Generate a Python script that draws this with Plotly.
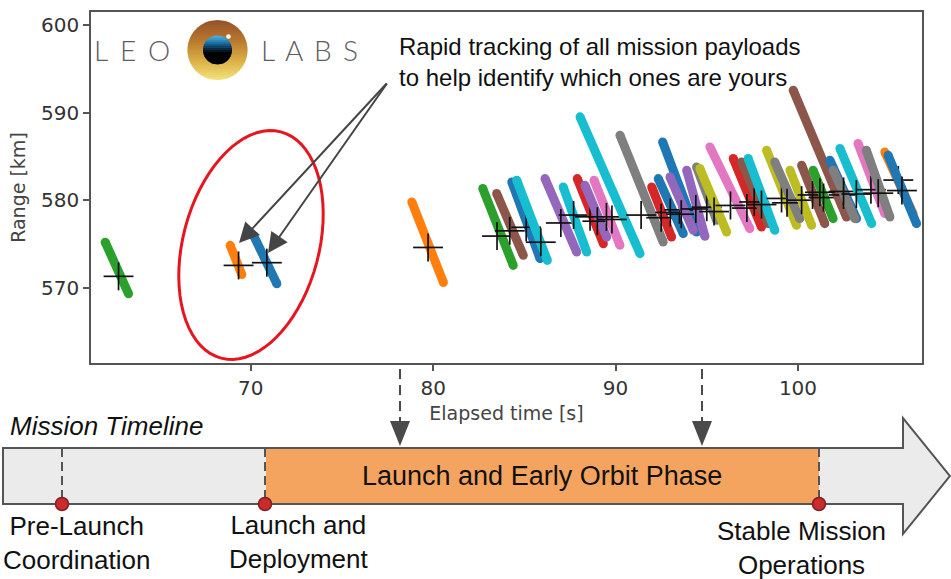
import math
import plotly.graph_objects as go

W, H = 951, 579

# ---------------- data ----------------
# each satellite track: start/end elapsed time [s] and start/end range [km]
track_t0 = [62.02, 68.87, 70.15, 78.83,
            82.72, 83.48, 84.31, 84.58, 86.13, 87.13, 87.90, 88.32, 88.82, 88.05,
            90.24, 91.98, 92.34, 92.58, 92.98, 93.90, 94.44, 94.62, 95.17, 96.45,
            96.91, 97.27, 98.28, 98.73, 99.56, 100.20, 100.83, 99.74, 101.75, 101.93,
            102.30, 103.29, 103.75, 104.76, 104.94]
track_t1 = [63.30, 69.51, 71.43, 80.56,
            84.39, 84.94, 85.86, 86.26, 87.87, 88.42, 89.33, 89.51, 90.24, 91.34,
            92.61, 93.07, 93.71, 94.44, 94.26, 94.90, 95.54, 96.09, 97.36, 98.00,
            98.37, 98.73, 99.92, 100.10, 100.75, 101.47, 101.93, 102.66, 103.21, 103.12,
            104.04, 104.76, 105.04, 106.31, 106.50]
track_r0 = [575.2, 574.84, 575.98, 579.8,
            581.33, 580.76, 582.08, 582.28, 582.47, 581.51, 582.47, 581.70, 582.28, 589.52,
            587.43, 581.51, 582.47, 586.66, 582.65, 583.42, 583.80, 583.62, 586.09, 584.76,
            584.37, 584.76, 585.71, 584.37, 583.42, 583.99, 583.42, 592.57, 584.57, 583.42,
            585.90, 586.48, 585.71, 585.51, 585.14]
track_r1 = [569.3, 571.5, 570.46, 570.6,
            572.55, 573.70, 573.32, 573.12, 574.07, 574.07, 575.03, 575.79, 574.84, 573.89,
            575.22, 575.79, 576.18, 576.36, 576.56, 575.87, 577.70, 576.36, 576.75, 576.93,
            577.32, 576.56, 577.13, 577.89, 577.13, 577.32, 577.89, 578.08, 577.89, 577.89,
            577.32, 578.47, 578.08, 578.47, 577.32]
track_color = ["green", "orange", "blue", "orange",
               "green", "brown", "blue", "cyan", "purple", "cyan", "red", "purple", "pink", "cyan",
               "gray", "red", "blue", "blue", "purple", "purple", "gray", "olive", "pink", "red",
               "brown", "cyan", "olive", "gray", "olive", "brown", "green", "brown", "blue", "gray",
               "cyan", "pink", "gray", "orange", "blue"]
# predicted positions (black crosses)
cross_t = [62.75, 69.33, 70.88, 79.72,
           83.5, 84.2, 85.1, 85.9, 87.0, 87.7, 88.6, 89.0, 89.5, 89.8,
           91.4, 92.5, 93.0, 93.5, 93.6, 94.4, 95.0, 95.4, 96.3, 97.2,
           97.6, 98.0, 99.1, 99.4, 100.2, 100.8, 101.4, 101.2, 102.5, 102.5,
           103.2, 104.0, 104.4, 105.5, 105.7]
cross_r = [571.3, 572.55, 572.86, 574.6,
           575.9, 576.5, 576.9, 575.2, 577.4, 578.3, 578.1, 577.6, 578.1, 577.8,
           578.3, 578.0, 578.6, 578.9, 578.4, 579.0, 579.2, 578.7, 579.4, 579.1,
           579.8, 579.5, 580.2, 579.7, 580.0, 580.6, 580.3, 580.9, 580.6, 581.0,
           580.7, 581.2, 580.8, 582.3, 581.1]
cross_dt = 0.82
cross_dr = 1.6

x_ticks = [70, 80, 90, 100]
y_ticks = [570, 580, 590, 600]

PALETTE = {"blue": "#1f77b4", "orange": "#ff7f0e", "green": "#2ca02c", "red": "#d62728",
           "purple": "#9467bd", "brown": "#8c564b", "pink": "#e377c2", "gray": "#7f7f7f",
           "olive": "#bcbd22", "cyan": "#17becf"}

n = len(track_t0)
assert all(len(a) == n for a in [track_t1, track_r0, track_r1, track_color, cross_t, cross_r])

fig = go.Figure()
for i in range(n):
    c = PALETTE[track_color[i]]
    fig.add_trace(go.Scatter(x=[track_t0[i], track_t1[i]], y=[track_r0[i], track_r1[i]],
                             mode="lines+markers", line=dict(color=c, width=9),
                             marker=dict(size=9, color=c), hoverinfo="skip"))
    fig.add_trace(go.Scatter(x=[cross_t[i]], y=[cross_r[i]], mode="markers",
                             marker=dict(size=1, color="rgba(0,0,0,0)"),
                             error_x=dict(type="constant", value=cross_dt, width=0, thickness=1.7, color="#111"),
                             error_y=dict(type="constant", value=cross_dr, width=0, thickness=1.7, color="#111"),
                             hoverinfo="skip"))

# ---------------- helpers in pixel space ----------------
def P(px, py):
    return f"{px / W:.5f},{1 - py / H:.5f}"

def poly(points):
    return "M" + " L".join(P(x, y) for x, y in points) + " Z"

def hexmix(c1, c2, t):
    a = [int(c1[k:k + 2], 16) for k in (1, 3, 5)]
    b = [int(c2[k:k + 2], 16) for k in (1, 3, 5)]
    return "#" + "".join(f"{round(a[j] + (b[j] - a[j]) * t):02x}" for j in range(3))

def grad(stops, t):
    for (t0, c0), (t1, c1) in zip(stops, stops[1:]):
        if t <= t1:
            return hexmix(c0, c1, (t - t0) / (t1 - t0) if t1 > t0 else 0)
    return stops[-1][1]

shapes = []

def circle_gradient(cx, cy, r, stops, nstrips=24):
    h = 2 * r / nstrips
    for k in range(nstrips):
        ya = cy - r + k * h
        yb = min(ya + h + 0.8, cy + r)
        left, right = [], []
        m = 5
        for j in range(m + 1):
            y = ya + (yb - ya) * j / m
            dx = math.sqrt(max(r * r - (y - cy) ** 2, 0))
            left.append((cx - dx, y))
            right.append((cx + dx, y))
        pts = left + right[::-1]
        col = grad(stops, (k + 0.5) / nstrips)
        shapes.append(dict(type="path", xref="paper", yref="paper", path=poly(pts),
                           fillcolor=col, line=dict(width=0), layer="above"))

def circle(cx, cy, r, fill, line_color=None, lw=0):
    shapes.append(dict(type="circle", xref="paper", yref="paper",
                       x0=(cx - r) / W, x1=(cx + r) / W, y0=1 - (cy + r) / H, y1=1 - (cy - r) / H,
                       fillcolor=fill, line=dict(color=line_color or fill, width=lw), layer="above"))

# logo
circle_gradient(217.5, 50, 30, [(0, "#94512a"), (0.35, "#b9792f"), (0.7, "#dcb348"), (1, "#f5e27c")])
circle_gradient(217.5, 50, 14.5, [(0, "#5ab4e0"), (0.25, "#1a74a8"), (0.48, "#0a2438"), (0.6, "#020202"), (1, "#000000")], 14)
circle(228.5, 36.5, 2.3, "#ffffff")

# red ellipse
ecx, ecy, ea, eb = 251, 245, 117, 68
ux, uy = 0.2555, -0.9668
vx, vy = 0.9668, 0.2555
ell = []
for k in range(73):
    t = 2 * math.pi * k / 72
    ell.append((ecx + ea * math.cos(t) * ux + eb * math.sin(t) * vx,
                ecy + ea * math.cos(t) * uy + eb * math.sin(t) * vy))
shapes.append(dict(type="path", xref="paper", yref="paper", path=poly(ell),
                   line=dict(color="#e5161e", width=3), fillcolor="rgba(0,0,0,0)", layer="above"))

# timeline arrow
body_top, body_bot = 448, 504
arrow = [(3, body_top), (903, body_top), (903, 418), (950, 476), (903, 534), (903, body_bot), (3, body_bot)]
shapes.append(dict(type="path", xref="paper", yref="paper", path=poly(arrow),
                   fillcolor="#ebebeb", line=dict(color="#555555", width=2)))
shapes.append(dict(type="rect", xref="paper", yref="paper",
                   x0=266 / W, x1=819 / W, y0=1 - (body_bot - 1) / H, y1=1 - (body_top + 1) / H,
                   fillcolor="#f5a460", line=dict(width=0)))
for xm in [62, 265, 819]:
    shapes.append(dict(type="line", xref="paper", yref="paper", x0=xm / W, x1=xm / W,
                       y0=1 - body_top / H, y1=1 - body_bot / H,
                       line=dict(color="#555555", width=2, dash="9px,5px")))
for xm in [62, 265, 819]:
    shapes.append(dict(type="circle", xref="paper", yref="paper",
                       x0=(xm - 6.5) / W, x1=(xm + 6.5) / W, y0=1 - (body_bot + 6.5) / H, y1=1 - (body_bot - 6.5) / H,
                       fillcolor="#cc2b2b", line=dict(color="#7d2222", width=1.5)))

# dashed arrows from the time axis onto the timeline
for xm in [400, 702]:
    shapes.append(dict(type="line", xref="paper", yref="paper", x0=xm / W, x1=xm / W,
                       y0=1 - 369 / H, y1=1 - 422 / H,
                       line=dict(color="#4a4a4a", width=2, dash="10px,6px")))
    shapes.append(dict(type="path", xref="paper", yref="paper",
                       path=poly([(xm - 10, 421), (xm + 10, 421), (xm, 446)]),
                       fillcolor="#4a4a4a", line=dict(width=0)))

annotations = []
SANS = "Liberation Sans, Arial, sans-serif"

def text(px, py, s, size, xanchor="center", color="#111111", family=SANS, style="normal", weight="normal", align="center"):
    annotations.append(dict(x=px / W, y=1 - py / H, xref="paper", yref="paper", text=s, showarrow=False,
                            xanchor=xanchor, yanchor="middle", align=align,
                            font=dict(size=size, color=color, family=family, style=style, weight=weight)))

# logo letters
for ch, xc in zip("LEO", [101, 128, 158.5]):
    text(xc, 50, ch, 28, color="#5e5e5e", family="Lato, Open Sans, sans-serif", weight=300)
for ch, xc in zip("LABS", [267.5, 294, 322.5, 350]):
    text(xc, 50, ch, 28, color="#5e5e5e", family="Lato, Open Sans, sans-serif", weight=300)

text(397, 62, "Rapid tracking of all mission payloads<br>to help identify which ones are yours", 24,
     xanchor="left", align="left")
text(8, 426, "Mission Timeline", 26, xanchor="left", style="italic")
text(542, 476, "Launch and Early Orbit Phase", 27)
text(76, 543, "Pre-Launch<br>Coordination", 26)
text(299, 542, "Launch and<br>Deployment", 26)
text(801, 548, "Stable Mission<br>Operations", 26)

# annotation arrows
for hx, hy in [(239, 243), (268, 253)]:
    annotations.append(dict(x=hx / W, y=1 - hy / H, xref="paper", yref="paper", text="", showarrow=True,
                            ax=388 - hx, ay=82 - hy, arrowhead=2, arrowsize=2, arrowwidth=2,
                            arrowcolor="#454545"))

AXF = "DejaVu Sans, sans-serif"
fig.update_layout(
    width=W, height=H, margin=dict(l=0, r=0, t=0, b=0, pad=0),
    paper_bgcolor="white", plot_bgcolor="white", showlegend=False, hovermode=False,
    xaxis=dict(domain=[91 / W, 922 / W], range=[61.24, 106.8], tickvals=x_ticks,
               showline=True, linecolor="#555555", linewidth=1.5, mirror=True,
               ticks="outside", ticklen=6, tickwidth=1.5, tickcolor="#555555",
               showgrid=False, zeroline=False, automargin=False,
               tickfont=dict(family=AXF, size=20, color="#333333"),
               title=dict(text="Elapsed time [s]", font=dict(family=AXF, size=19, color="#444444"), standoff=8)),
    yaxis=dict(domain=[1 - 363 / H, 1 - 12 / H], range=[561.4, 601.5], tickvals=y_ticks,
               showline=True, linecolor="#555555", linewidth=1.5, mirror=True,
               ticks="outside", ticklen=6, tickwidth=1.5, tickcolor="#555555",
               showgrid=False, zeroline=False, automargin=False,
               tickfont=dict(family=AXF, size=20, color="#333333"),
               title=dict(text="Range [km]", font=dict(family=AXF, size=19, color="#444444"), standoff=10)),
    shapes=shapes, annotations=annotations,
)

fig.write_html("out.html", config={"displayModeBar": False},
               post_script="document.body.style.margin='0';document.body.style.overflow='hidden';")
